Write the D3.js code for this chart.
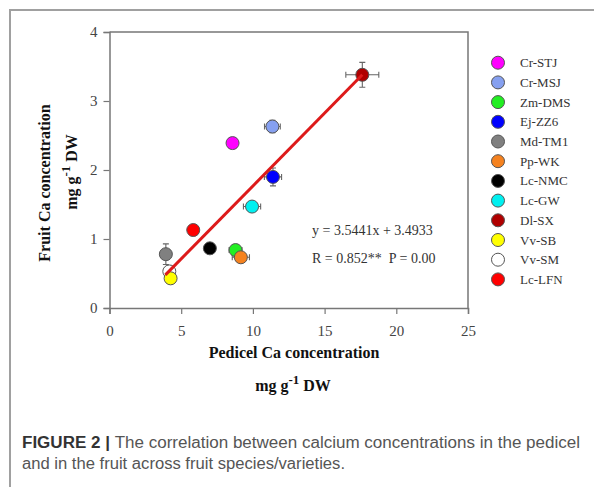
<!DOCTYPE html>
<html>
<head>
<meta charset="utf-8">
<script src="https://cdn.jsdelivr.net/npm/d3@7"></script>
<style>
  html, body { margin: 0; padding: 0; background: #fff; }
  svg { display: block; }
</style>
</head>
<body>
<svg id="chart" width="594" height="487"></svg>
<script>
// ---- data ----
const names  = ["Cr-STJ","Cr-MSJ","Zm-DMS","Ej-ZZ6","Md-TM1","Pp-WK","Lc-NMC","Lc-GW","Dl-SX","Vv-SB","Vv-SM","Lc-LFN"];
const colors = ["#ff00ff","#86a0f0","#22ee22","#0000ff","#808080","#f5821f","#000000","#00f0f0","#b00000","#ffff00","#ffffff","#ff0000"];
const pedicelCa = [8.58, 11.36, 8.79, 11.40, 3.93, 9.16, 7.00, 9.94, 17.63, 4.26, 4.17, 5.84];
const fruitCa   = [2.39, 2.63, 0.84, 1.90, 0.78, 0.735, 0.865, 1.47, 3.38, 0.43, 0.53, 1.13];
const pedicelErr = [0.25, 0.55, 0.45, 0.6, 0.2, 0.6, 0.3, 0.6, 1.15, 0.2, 0.2, 0.3];
const fruitErr   = [0.04, 0.09, 0.07, 0.13, 0.15, 0.06, 0.04, 0.06, 0.18, 0.04, 0.08, 0.04];
const fitX = [3.9, 17.63];
const fitY = [0.48, 3.38];
const xTicks = [0, 5, 10, 15, 20, 25];
const yTicks = [0, 1, 2, 3, 4];
const equationText = "y = 3.5441x + 3.4933";
const statsText = "R = 0.852**  P = 0.00";

const svg = d3.select("#chart");
const serif = "'Liberation Serif', 'Times New Roman', serif";
const sans = "'Liberation Sans', Arial, Helvetica, sans-serif";

// outer frame (top & left lines)
svg.append("path")
  .attr("d", "M10,487 L10,10 L594,10")
  .attr("fill", "none").attr("stroke", "#a0a0a0").attr("stroke-width", 2);

const x = d3.scaleLinear().domain([0, 25]).range([109.5, 468]);
const y = d3.scaleLinear().domain([0, 4]).range([308, 32]);

// plot box top/right
svg.append("path")
  .attr("d", `M${x(0)},${y(4)} L${x(25)},${y(4)} L${x(25)},${y(0)}`)
  .attr("fill", "none").attr("stroke", "#777").attr("stroke-width", 1.5);

const xAxis = svg.append("g").attr("transform", `translate(0,${y(0)})`)
  .call(d3.axisBottom(x).tickValues(xTicks).tickSize(6).tickPadding(11).tickFormat(d3.format("d")));
const yAxis = svg.append("g").attr("transform", `translate(${x(0)},0)`)
  .call(d3.axisLeft(y).tickValues(yTicks).tickSize(6).tickPadding(6).tickFormat(d3.format("d")));
[xAxis, yAxis].forEach(g => {
  g.select(".domain").attr("stroke", "#777").attr("stroke-width", 1.5);
  g.selectAll(".tick line").attr("stroke", "#777").attr("stroke-width", 1.2);
  g.selectAll(".tick text").attr("font-family", serif).attr("font-size", 15).attr("fill", "#444");
});

// error bars
const idx = d3.range(names.length);
const eb = svg.append("g").attr("stroke", "#666").attr("stroke-width", 1.1).attr("fill", "none");
idx.forEach(i => {
  const cx = x(pedicelCa[i]), cy = y(fruitCa[i]);
  const x0 = x(pedicelCa[i] - pedicelErr[i]), x1 = x(pedicelCa[i] + pedicelErr[i]);
  const y0 = y(fruitCa[i] - fruitErr[i]), y1 = y(fruitCa[i] + fruitErr[i]);
  eb.append("path").attr("d",
    `M${x0},${cy}H${x1} M${x0},${cy-3}V${cy+3} M${x1},${cy-3}V${cy+3}` +
    ` M${cx},${y0}V${y1} M${cx-3},${y0}H${cx+3} M${cx-3},${y1}H${cx+3}`);
});

// points (draw Vv-SM before Vv-SB so yellow sits in front)
const order = [0,1,2,3,4,5,6,7,8,10,9,11];
svg.append("g").selectAll("circle").data(order).join("circle")
  .attr("cx", i => x(pedicelCa[i]))
  .attr("cy", i => y(fruitCa[i]))
  .attr("r", 6.5)
  .attr("fill", i => colors[i])
  .attr("stroke", "#555").attr("stroke-width", 1);

// regression line
svg.append("line")
  .attr("x1", x(fitX[0])).attr("y1", y(fitY[0]))
  .attr("x2", x(fitX[1])).attr("y2", y(fitY[1]))
  .attr("stroke", "#dd1a1a").attr("stroke-width", 3);

// annotation
svg.append("text").attr("x", 312).attr("y", 235)
  .attr("font-family", serif).attr("font-size", 14).attr("fill", "#333").text(equationText);
svg.append("text").attr("x", 312).attr("y", 263).attr("xml:space", "preserve")
  .attr("font-family", serif).attr("font-size", 14).attr("fill", "#333").text(statsText);

// legend
const leg = svg.append("g");
idx.forEach(i => {
  const ly = 62.7 + i * 19.7;
  leg.append("circle").attr("cx", 498).attr("cy", ly).attr("r", 6.5)
    .attr("fill", colors[i]).attr("stroke", "#555").attr("stroke-width", 1);
  leg.append("text").attr("x", 520).attr("y", ly).attr("dy", "0.35em")
    .attr("font-family", serif).attr("font-size", 13).attr("fill", "#333").text(names[i]);
});

// axis titles
function unitLabel(sel) {
  sel.append("tspan").text("mg g");
  sel.append("tspan").attr("dy", -7).attr("font-size", 13).text("-1");
  sel.append("tspan").attr("dy", 7).text(" DW");
}
svg.append("text").attr("x", 294).attr("y", 358).attr("text-anchor", "middle")
  .attr("font-family", serif).attr("font-weight", "bold").attr("font-size", 16).attr("fill", "#111")
  .text("Pedicel Ca concentration");
svg.append("text").attr("x", 293).attr("y", 391).attr("text-anchor", "middle")
  .attr("font-family", serif).attr("font-weight", "bold").attr("font-size", 16).attr("fill", "#111")
  .call(unitLabel);

svg.append("text").attr("transform", "translate(50,183) rotate(-90)").attr("text-anchor", "middle")
  .attr("font-family", serif).attr("font-weight", "bold").attr("font-size", 16).attr("fill", "#111")
  .text("Fruit Ca concentration");
svg.append("text").attr("transform", "translate(77,172) rotate(-90)").attr("text-anchor", "middle")
  .attr("font-family", serif).attr("font-weight", "bold").attr("font-size", 16).attr("fill", "#111")
  .call(unitLabel);

// caption
const cap1 = svg.append("text").attr("x", 22).attr("y", 448)
  .attr("font-family", sans).attr("font-size", 16).attr("fill", "#555")
  .attr("textLength", 558).attr("lengthAdjust", "spacingAndGlyphs");
cap1.append("tspan").attr("font-weight", "bold").attr("fill", "#333").text("FIGURE 2 | ");
cap1.append("tspan").text("The correlation between calcium concentrations in the pedicel");
svg.append("text").attr("x", 22).attr("y", 469)
  .attr("font-family", sans).attr("font-size", 16).attr("fill", "#555")
  .attr("textLength", 323).attr("lengthAdjust", "spacingAndGlyphs")
  .text("and in the fruit across fruit species/varieties.");
</script>
</body>
</html>
